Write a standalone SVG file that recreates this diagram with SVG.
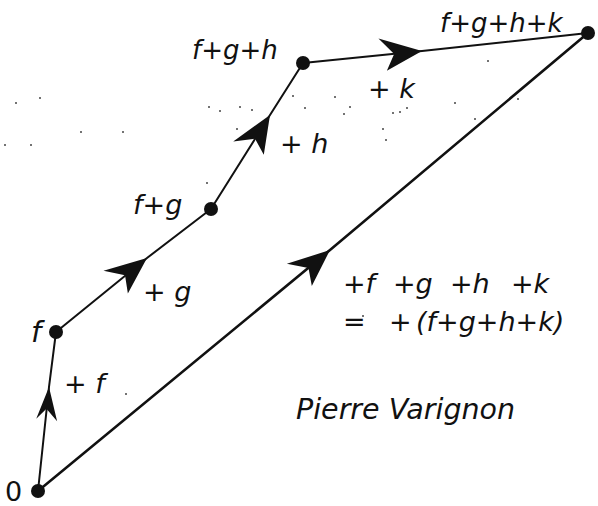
<svg xmlns="http://www.w3.org/2000/svg" width="598" height="506" viewBox="0 0 598 506">
<style>
.ln{fill:none;stroke:#111;stroke-width:2;stroke-linecap:round}
.big{stroke-width:2.6}
.dot{fill:#111}
.t{font-family:"DejaVu Sans",sans-serif;font-style:italic;fill:#111;font-size:27px}
.up{font-style:normal}
.sp{fill:#444}
</style>
<defs>
<marker id="dart" markerUnits="userSpaceOnUse" viewBox="-45 -20 50 40" markerWidth="50" markerHeight="40" refX="0" refY="0" orient="auto">
<path d="M0,0 L-42,-17 L-28,0 L-37,16 Z" fill="#111"/>
</marker>
<marker id="dartS" markerUnits="userSpaceOnUse" viewBox="-40 -16 44 32" markerWidth="44" markerHeight="32" refX="0" refY="0" orient="auto">
<path d="M0,0 L-33,-9 L-22,0 L-33,12 Z" fill="#111"/>
</marker>
</defs>
<rect width="598" height="506" fill="#fff"/>
<g id="specks" class="sp">
<circle cx="16" cy="103" r="1"/><circle cx="40" cy="98" r="1"/><circle cx="5" cy="145" r="1"/><circle cx="31" cy="145" r="1"/>
<circle cx="81" cy="132" r="1"/><circle cx="123" cy="132" r="1"/><circle cx="209" cy="107" r="1"/><circle cx="220" cy="111" r="1"/>
<circle cx="237" cy="129" r="1"/><circle cx="293" cy="96" r="1"/><circle cx="305" cy="108" r="1"/><circle cx="344" cy="114" r="1"/>
<circle cx="383" cy="129" r="1"/><circle cx="386" cy="140" r="1"/><circle cx="400" cy="112" r="1"/><circle cx="407" cy="108" r="1"/>
<circle cx="455" cy="103" r="1"/><circle cx="475" cy="119" r="1"/><circle cx="518" cy="99" r="1"/><circle cx="126" cy="394" r="1"/>
<circle cx="488" cy="61" r="1"/><circle cx="240" cy="107" r="1"/><circle cx="252" cy="110" r="1"/><circle cx="335" cy="97" r="1"/>
<circle cx="350" cy="107" r="1"/><circle cx="393" cy="113" r="1"/><circle cx="207" cy="183" r="1"/><circle cx="363" cy="316" r="1"/>
</g>
<g id="connectors">
<polyline class="ln" points="38,491 49,387 56,332" marker-mid="url(#dartS)"/>
<polyline class="ln" points="56,332 147,258 211,209" marker-mid="url(#dart)"/>
<polyline class="ln" points="211,209 270,115 303,63" marker-mid="url(#dart)"/>
<polyline class="ln" points="303,63 422,51 588,33" marker-mid="url(#dart)"/>
<polyline class="ln big" points="38,491 330,250 588,33" marker-mid="url(#dart)"/>
</g>
<g id="node-0"><circle class="dot" cx="38" cy="491" r="7"/><text class="t up" x="5" y="501" font-size="27">0</text></g>
<g id="node-f"><circle class="dot" cx="56" cy="332" r="7"/><text class="t" x="31" y="342" style="font-size:29px">f</text></g>
<g id="node-fg"><circle class="dot" cx="211" cy="209" r="7"/><text class="t" x="133" y="214">f+g</text></g>
<g id="node-fgh"><circle class="dot" cx="303" cy="63" r="7"/><text class="t" x="192" y="59" style="font-size:26px">f+g+h</text></g>
<g id="node-fghk"><circle class="dot" cx="588" cy="33" r="7"/><text class="t" x="440" y="32" style="font-size:26px">f+g+h+k</text></g>
<g id="labels">
<text class="t" x="64" y="393">+ f</text>
<text class="t" x="143" y="301">+ g</text>
<text class="t" x="280" y="153">+ h</text>
<text class="t" x="368" y="98">+ k</text>
<text class="t" x="343" y="293">+f</text>
<text class="t" x="393" y="293">+g</text>
<text class="t" x="450" y="293">+h</text>
<text class="t" x="511" y="293">+k</text>
<text class="t" x="343" y="331">=</text>
<text class="t" x="389" y="331">+</text>
<text class="t" x="416" y="331">(f+g+h+k)</text>
<text class="t" x="296" y="419" style="font-size:28.5px">Pierre Varignon</text>
</g>
</svg>
